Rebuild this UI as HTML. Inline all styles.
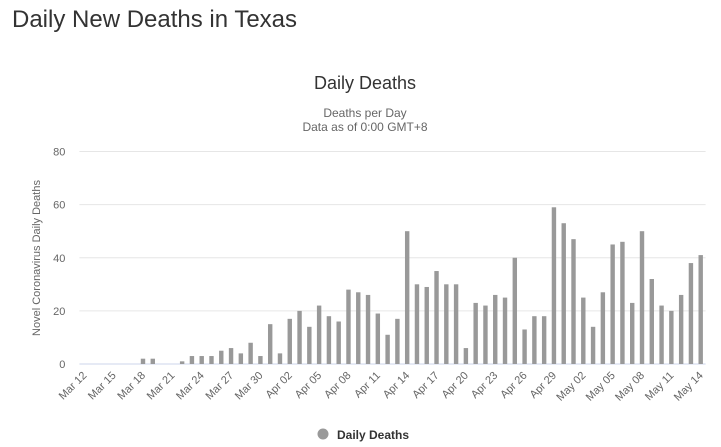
<!DOCTYPE html>
<html><head><meta charset="utf-8"><style>
body{margin:0;background:#fff;font-family:"Liberation Sans",sans-serif;}
#wrap{position:relative;width:721px;height:447px;overflow:hidden;}
h1{position:absolute;left:12px;top:6px;margin:0;font-weight:normal;font-size:24px;color:#333;}
</style></head><body>
<div id="wrap">
<h1>Daily New Deaths in Texas</h1>
<svg id="chart" width="721" height="447" style="position:absolute;left:0;top:0">
<text x="365" y="89" text-anchor="middle" font-size="18" fill="#333">Daily Deaths</text>
<text x="365" y="117" text-anchor="middle" font-size="12" fill="#666">Deaths per Day</text>
<text x="365" y="131" text-anchor="middle" font-size="12" fill="#666">Data as of 0:00 GMT+8</text>
<text transform="translate(40,258) rotate(-90)" text-anchor="middle" font-size="11" fill="#666">Novel Coronavirus Daily Deaths</text>
<g id="grid"></g><g id="bars"></g><g id="xlab"></g>
<circle cx="323" cy="434" r="5.5" fill="#999"/>
<text x="337" y="439" font-size="12" font-weight="bold" fill="#333">Daily Deaths</text>
</svg>
</div>
<script>
const startLabels=["Mar","Apr","May"];
const yTicks=[0,20,40,60,80];
const values=[0,0,0,0,0,0,2,2,0,0,1,3,3,3,5,6,4,8,3,15,
4,17,20,14,22,18,16,28,27,26,19,11,17,50,30,29,35,30,30,6,23,22,26,25,40,13,18,18,59,53,
47,25,14,27,45,46,23,50,32,22,20,26,38,41];
const monthDays=[20,30,14];
const monthStart=[12,1,1];
const categories=[];
monthDays.forEach((n,m)=>{for(let i=0;i<n;i++){const d=monthStart[m]+i;categories.push(startLabels[m]+" "+(d<10?"0"+d:d));}});
const ns="http://www.w3.org/2000/svg";
const x0=79.4,x1=705.6,y0=364,yTop=151.5,ymax=80;
const slot=(x1-x0)/categories.length;
const xs=i=>x0+slot*(i+0.5);
const ys=v=>y0-(v/ymax)*(y0-yTop);
const mk=(t,a)=>{const e=document.createElementNS(ns,t);for(const k in a)e.setAttribute(k,a[k]);return e;};
const grid=document.getElementById('grid');
yTicks.forEach(t=>{
 const l=mk('line',{x1:x0,x2:x1,y1:ys(t),y2:ys(t),stroke:t===0?'#ccd6eb':'#e6e6e6','stroke-width':1});
 
 
 grid.appendChild(l);
 const tx=mk('text',{x:x0-14,y:ys(t)+4,'text-anchor':'end','font-size':11,fill:'#666'});
 tx.textContent=t;
 
 
 grid.appendChild(tx);
});
const bars=document.getElementById('bars');
values.forEach((v,i)=>{
 const r=mk('rect',{x:xs(i)-2.2,y:ys(v),width:4.4,height:y0-ys(v),fill:'#999'});
 
 
 bars.appendChild(r);
});
const xl=document.getElementById('xlab');
categories.forEach((c,i)=>{
 if(i%3!==0)return;
 const x=xs(i)+3,y=y0+12;
 const t=mk('text',{x:x,y:y,'text-anchor':'end','font-size':11,fill:'#666',transform:`rotate(-45 ${x} ${y})`});
 t.textContent=c;
 
 
 xl.appendChild(t);
});
</script>
</body></html>
